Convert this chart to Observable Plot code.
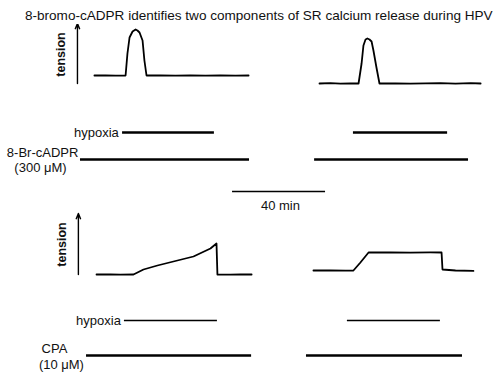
<!DOCTYPE html>
<html><head><meta charset="utf-8">
<script src="https://cdn.jsdelivr.net/npm/d3@7"></script>
<script src="https://cdn.jsdelivr.net/npm/@observablehq/plot@0.6"></script>
<style>
html,body{margin:0;padding:0;background:#fff;overflow:hidden}
#title{box-sizing:border-box;width:500px;height:24px;padding-top:8px;padding-left:25px;line-height:16px;text-align:left;font:13px "Liberation Sans",Arial,sans-serif;color:#111;white-space:nowrap}
svg{display:block}
</style></head><body>
<div id="title"><span id="tt">8-bromo-cADPR identifies two components of SR calcium release during HPV</span></div>
<div id="chart"></div>
<script>
// ---- Data (time in minutes, tension in arbitrary units above baseline) ----
const brTraceT   = [40.4,45.2,49.5,53.8,54.6,55.5,56.8,58.1,58.9,59.8,61.1,61.9,62.8,68.8,75.3,81.7,88.2,94.6,101.1,106.7];
const brTraceV   = [0,0.2,-0.2,0,22,38,44,46,45,43,35,15,0,0.2,-0.2,0.2,-0.2,0.2,-0.1,0];
const brTrace2T  = [137.2,141.9,146.2,150.5,154.0,155.3,156.1,157.0,157.8,158.7,159.6,160.4,161.7,163.0,169.9,176.3,182.8,189.2,195.7,202.2,206.5];
const brTrace2V  = [0,0.3,-0.2,0.2,0,20,38,44,45,44,42,33,16,0,0.2,-0.2,0.2,0.4,-0.1,0.3,0];
const cpaTraceT  = [41.3,47.3,51.6,57.2,61.5,67.5,76.1,83.0,90.3,92.9,93.3,98.9,103.2,108.0];
const cpaTraceV  = [0,0.2,-0.2,0,5,9,14,18,26,31,0,-0.2,0.2,0];
const cpaTrace2T = [134.6,141.9,148.4,151.8,154.8,158.3,167.7,176.3,184.9,189.7,190.1,195.7,203.4];
const cpaTrace2V = [0,0.2,-0.2,0,8,18,18.2,17.9,18.1,18,1,0,-0.4];

const hypoxiaTop    = [[52.5,92.0],[151.8,192.3]];
const brPeriods     = [[34.4,107.1],[135.1,201.3]];
const hypoxiaBottom = [[53.3,93.3],[149.2,189.2]];
const cpaPeriods    = [[37.0,108.0],[131.6,198.7]];
const scaleBar      = [[99.8,139.8]];
const scaleLabel    = "40 min";
const axisLabel     = "tension";
const hypoxiaLabel  = "hypoxia";
const brLabel       = ["8-Br-cADPR","(300 μM)"];
const cpaLabel      = ["CPA","(10 μM)"];

// fit title to the reference's span (x 25 → 493)
(function(){
  const s = document.getElementById("tt");
  const w = s.getBoundingClientRect().width;
  if (w > 0) document.getElementById("title").style.fontSize = (13 * 468 / w).toFixed(2) + "px";
})();

// ---- Layout (vertical positions in figure units) ----
const rows = [];
function addTrace(t, v, base, id){ t.forEach((ti,i)=>rows.push({id, t:ti, y: base - v[i]})); }
addTrace(brTraceT, brTraceV, 75, "a");
addTrace(brTrace2T, brTrace2V, 83, "b");
addTrace(cpaTraceT, cpaTraceV, 274, "c");
addTrace(cpaTrace2T, cpaTrace2V, 270, "d");

const bars = (arr, y) => arr.map(([a,b])=>({a,b,y}));
const font = "'Liberation Sans', Arial, sans-serif";
const txt = (s, x, y, o={}) => Plot.text([s], {x:()=>x, y:()=>y, text:d=>d, fontSize:13, fill:"#111", ...o});

const chart = Plot.plot({
  width: 500, height: 350,
  marginTop: 0, marginRight: 0, marginBottom: 0, marginLeft: 0,
  style: {fontFamily: font, background: "#fff"},
  x: {domain: [0, 215.05], axis: null},
  y: {domain: [24, 374], range: [0, 350], axis: null},
  marks: [
    Plot.line(rows, {x:"t", y:"y", z:"id", stroke:"#000", strokeWidth:1.8, strokeLinejoin:"round"}),
    Plot.ruleY(bars(hypoxiaTop,132), {y:"y", x1:"a", x2:"b", stroke:"#000", strokeWidth:2.3}),
    Plot.ruleY(bars(brPeriods,159), {y:"y", x1:"a", x2:"b", stroke:"#000", strokeWidth:2.7}),
    Plot.ruleY(bars(scaleBar,191), {y:"y", x1:"a", x2:"b", stroke:"#000", strokeWidth:1.3}),
    Plot.ruleY(bars(hypoxiaBottom,320), {y:"y", x1:"a", x2:"b", stroke:"#000", strokeWidth:1.4}),
    Plot.ruleY(bars(cpaPeriods,355), {y:"y", x1:"a", x2:"b", stroke:"#000", strokeWidth:2.7}),
    Plot.arrow([{x:33.1,y1:83,y2:23},{x:33.5,y1:274,y2:213}], {x1:"x", x2:"x", y1:"y1", y2:"y2", stroke:"#000", strokeWidth:1.4, headLength:6, headAngle:45}),
    txt(axisLabel, 26.2, 54, {rotate:-90, fontSize:12.5, fontWeight:"bold"}),
    txt(axisLabel, 26.4, 244, {rotate:-90, fontSize:12.5, fontWeight:"bold"}),
    txt(hypoxiaLabel, 50.9, 132, {textAnchor:"end"}),
    txt(hypoxiaLabel, 51.8, 320, {textAnchor:"end"}),
    txt(brLabel[0], 18.1, 152),
    txt(brLabel[1], 17.2, 167),
    txt(cpaLabel[0], 23.2, 348),
    txt(cpaLabel[1], 26.2, 364),
    txt(scaleLabel, 120.4, 205)
  ]
});
document.getElementById("chart").appendChild(chart);
</script>
</body></html>
